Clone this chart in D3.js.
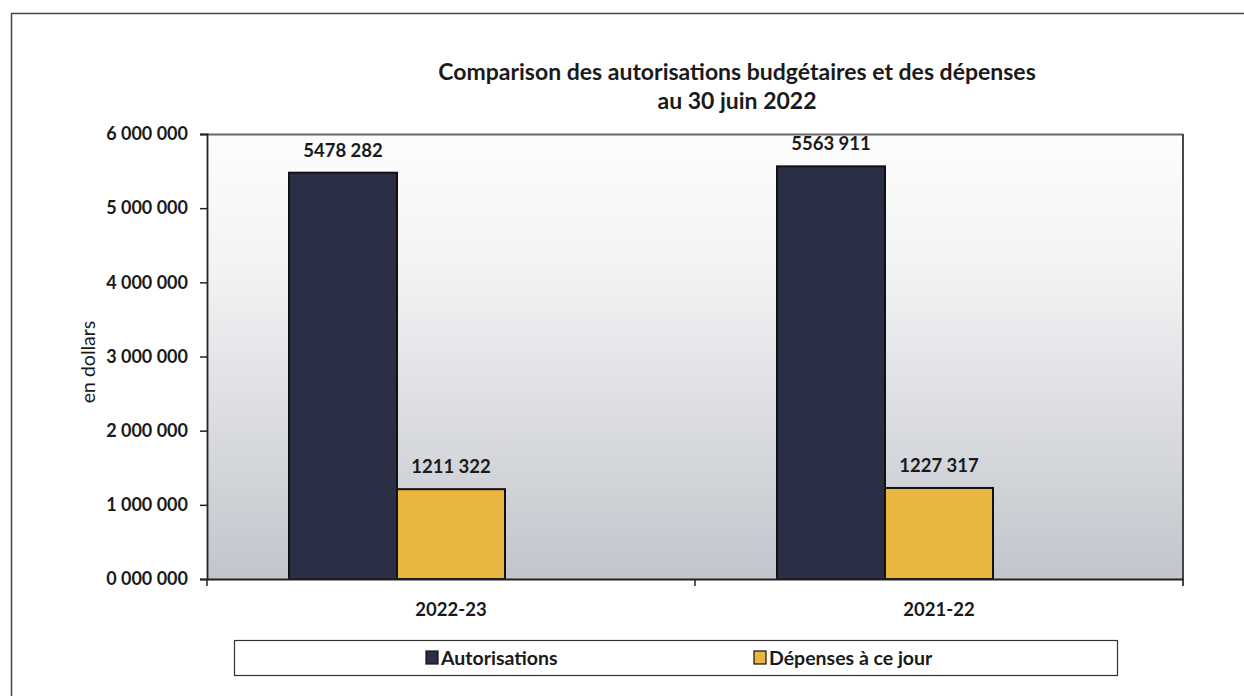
<!DOCTYPE html>
<html><head><meta charset="utf-8">
<script src="https://cdn.jsdelivr.net/npm/d3@7"></script>
<style>
html,body{margin:0;padding:0;background:#fff;}
svg{display:block;font-family:Lato, "Open Sans", sans-serif;}
</style></head>
<body>
<svg id="c" width="1244" height="696"></svg>
<script>
const categories = ["2022-23", "2021-22"];
const seriesNames = ["Autorisations", "Dépenses à ce jour"];
const autorisations = [5478282, 5563911];
const depenses = [1211322, 1227317];
const yTicks = [0, 1000000, 2000000, 3000000, 4000000, 5000000, 6000000];
const yTickLabels = ["0 000 000", "1 000 000", "2 000 000", "3 000 000", "4 000 000", "5 000 000", "6 000 000"];
const titleLines = ["Comparison des autorisations budgétaires et des dépenses", "au 30 juin 2022"];
const colors = ["#2b2f45", "#e9b63f"];

const svg = d3.select("#c");
const m = {left: 207, top: 134, right: 1183, bottom: 579};

// outer border (partially cropped)
svg.append("path").attr("d", "M11.5,696 V13.5 H1244").attr("fill", "none").attr("stroke", "#444").attr("stroke-width", 1.5);

// gradient
const defs = svg.append("defs");
const g = defs.append("linearGradient").attr("id", "bg").attr("x1", 0).attr("y1", 0).attr("x2", 0).attr("y2", 1);
g.append("stop").attr("offset", "0%").attr("stop-color", "#fdfdfd");
g.append("stop").attr("offset", "30%").attr("stop-color", "#f2f3f4");
g.append("stop").attr("offset", "100%").attr("stop-color", "#c2c5cc");

const x0 = d3.scaleBand().domain(categories).range([m.left, m.right]).paddingInner(0).paddingOuter(0);
// three slots per category (third slot empty, as in the source chart)
const x1 = d3.scaleBand().domain([...seriesNames, "_empty"]).range([0, 324]);
const y = d3.scaleLinear().domain([0, 6000000]).range([m.bottom, m.top]);

svg.append("rect").attr("x", m.left).attr("y", m.top).attr("width", m.right - m.left).attr("height", m.bottom - m.top).attr("fill", "url(#bg)");

// plot border top & right
svg.append("line").attr("x1", m.left).attr("x2", m.right).attr("y1", m.top + 0.5).attr("y2", m.top + 0.5).attr("stroke", "#666").attr("stroke-width", 1.8);
svg.append("line").attr("x1", m.right).attr("x2", m.right).attr("y1", m.top).attr("y2", m.bottom + 7).attr("stroke", "#333").attr("stroke-width", 1.8);

// bars
const data = categories.map((c, i) => ({cat: c, vals: [autorisations[i], depenses[i]]}));
const grp = svg.append("g").selectAll("g").data(data).join("g")
  .attr("transform", d => `translate(${x0(d.cat) + x0.bandwidth() / 2 - 162},0)`);
grp.selectAll("rect").data(d => d.vals.map((v, j) => ({v, s: seriesNames[j], j}))).join("rect")
  .attr("x", d => x1(d.s)).attr("width", x1.bandwidth())
  .attr("y", d => y(d.v)).attr("height", d => y(0) - y(d.v))
  .attr("fill", d => colors[d.j]).attr("stroke", "#111").attr("stroke-width", 2);
const fmt = v => { const s = String(v); return s.slice(0, s.length - 3) + " " + s.slice(-3); };
grp.selectAll("text").data(d => d.vals.map((v, j) => ({v, s: seriesNames[j], j}))).join("text")
  .attr("x", d => x1(d.s) + x1.bandwidth() / 2).attr("y", d => y(d.v) - 16)
  .attr("text-anchor", "middle").attr("font-size", 18.5).attr("font-weight", "bold").attr("fill", "#1a1a1a")
  .text(d => fmt(d.v));

// y axis
const yAxis = d3.axisLeft(y).tickValues(yTicks).tickFormat((d, i) => yTickLabels[i]).tickSize(7).tickPadding(12);
const ya = svg.append("g").attr("transform", `translate(${m.left},0)`).call(yAxis);
ya.select(".domain").attr("stroke", "#222").attr("stroke-width", 1.8);
ya.selectAll(".tick line").attr("stroke", "#222").attr("stroke-width", 1.5);
ya.selectAll(".tick text").attr("font-size", 18).attr("font-weight", "bold").attr("fill", "#1a1a1a").attr("font-family", "Lato, sans-serif");

// x axis
const xa = svg.append("g").attr("transform", `translate(0,${m.bottom})`).call(d3.axisBottom(x0).tickSize(0).tickPadding(24));
xa.select(".domain").attr("stroke", "#222").attr("stroke-width", 1.8);
xa.selectAll(".tick text").attr("font-size", 18.5).attr("font-weight", "bold").attr("fill", "#1a1a1a").attr("font-family", "Lato, sans-serif");
// category separator ticks
[m.left, (m.left + m.right) / 2].forEach(xx => {
  svg.append("line").attr("x1", xx).attr("x2", xx).attr("y1", m.bottom).attr("y2", m.bottom + 7).attr("stroke", "#222").attr("stroke-width", 1.5);
});

// y label
svg.append("text").attr("transform", "translate(95,362) rotate(-90)").attr("text-anchor", "middle")
  .attr("font-size", 19.5).attr("fill", "#1a1a1a").text("en dollars");

// title
svg.append("text").attr("x", 737).attr("y", 80).attr("text-anchor", "middle").attr("font-size", 23).attr("font-weight", "bold").attr("fill", "#1a1a1a").text(titleLines[0]);
svg.append("text").attr("x", 737).attr("y", 109).attr("text-anchor", "middle").attr("font-size", 23).attr("font-weight", "bold").attr("fill", "#1a1a1a").text(titleLines[1]);

// legend
svg.append("rect").attr("x", 234.5).attr("y", 640.5).attr("width", 883).attr("height", 35).attr("fill", "#fff").attr("stroke", "#333").attr("stroke-width", 1.2);
const legX = [426, 754];
seriesNames.forEach((s, i) => {
  svg.append("rect").attr("x", legX[i]).attr("y", 651).attr("width", 12).attr("height", 13).attr("fill", colors[i]).attr("stroke", "#111").attr("stroke-width", 1.2);
  svg.append("text").attr("x", legX[i] + 15).attr("y", 665).attr("font-size", 19.5).attr("font-weight", "bold").attr("fill", "#1a1a1a").text(s);
});
</script>
</body></html>
